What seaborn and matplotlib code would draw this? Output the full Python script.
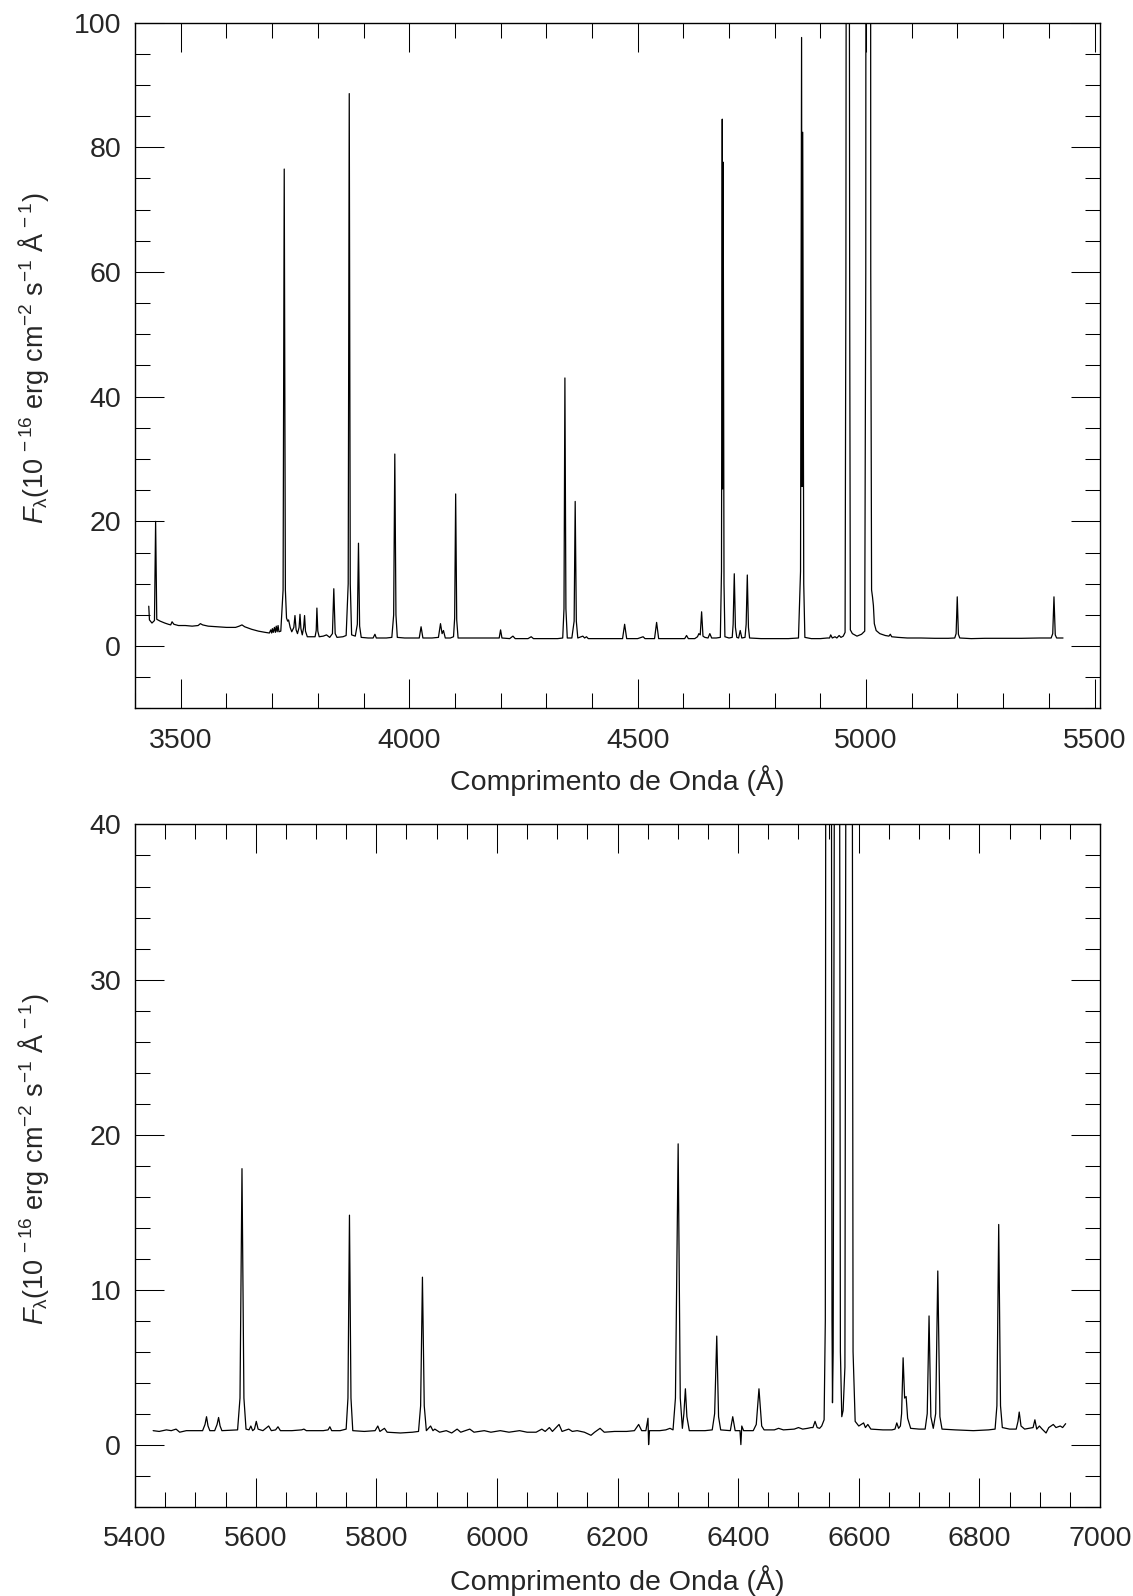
"""
Optical spectrum of the nebula, blue and red arms (two stacked panels)
"""

import matplotlib
matplotlib.use('Agg')
import matplotlib.pyplot as plt
from matplotlib.ticker import MultipleLocator
import seaborn as sns

# Blue arm: wavelength (A) and flux (1e-16 erg/cm2/s/A)
top_wave = [3430, 3431.5, 3437, 3442.5, 3445, 3447.5, 3455, 3465, 3473, 3478, 3481, 3485,
            3495, 3510, 3525, 3538, 3543, 3548, 3560, 3580, 3600, 3620, 3628, 3634, 3640,
            3655, 3670, 3685, 3694, 3697, 3699, 3700.5, 3702.5, 3705, 3707, 3709, 3711,
            3713, 3715, 3719, 3724, 3726.5, 3729, 3731.5, 3734, 3736, 3739.5, 3743, 3747.5,
            3750, 3752.5, 3755.5, 3759, 3761, 3763, 3766, 3769, 3771, 3773, 3777, 3785,
            3794, 3796.5, 3798, 3800, 3803, 3812, 3819, 3826, 3832, 3835, 3838, 3842, 3855,
            3862, 3866.5, 3868.8, 3871, 3874, 3882, 3886.5, 3889, 3891.5, 3895, 3910, 3921,
            3925, 3928, 3950, 3962, 3966, 3968.5, 3971, 3974, 3990, 4010, 4022, 4026, 4030,
            4050, 4064, 4068.5, 4072, 4075, 4079, 4090, 4097, 4099.5, 4101.7, 4104, 4107,
            4130, 4160, 4190, 4197, 4200, 4203, 4220, 4227, 4232, 4260, 4267, 4272, 4300,
            4325, 4336, 4338.8, 4340.8, 4343, 4346, 4356, 4361, 4363.3, 4365.8, 4369, 4380,
            4384, 4388, 4392, 4420, 4450, 4467, 4471.5, 4476, 4500, 4512, 4516, 4537, 4541.5,
            4546, 4570, 4590, 4603, 4607, 4611, 4625, 4631, 4634, 4637, 4640, 4643, 4647,
            4654, 4658, 4662, 4672, 4681, 4683.5, 4685.2, 4686.1, 4687.2, 4689, 4691, 4700,
            4707, 4709, 4711.5, 4714, 4717, 4721, 4724.5, 4728, 4735, 4737.5, 4740, 4742.5,
            4745, 4770, 4800, 4830, 4852, 4856.5, 4858.8, 4859.8, 4861.3, 4863.5, 4866, 4880,
            4900, 4915, 4920, 4922.5, 4926, 4932, 4936, 4941, 4945, 4950, 4954, 4955.8,
            4959.9, 4964, 4965.5, 4970, 4980, 4990, 4997, 4999.3, 5004.8, 5010.2, 5012, 5014,
            5016, 5018, 5022, 5030, 5042, 5050, 5053, 5056, 5070, 5090, 5120, 5150, 5180,
            5194, 5197, 5199.5, 5202, 5205, 5230, 5260, 5300, 5340, 5380, 5405, 5408.5,
            5411.2, 5414, 5417, 5431]
top_flux = [6.4, 4.2, 3.7, 4.1, 20.0, 4.3, 4.0, 3.7, 3.5, 3.4, 3.9, 3.5,
            3.3, 3.3, 3.2, 3.3, 3.6, 3.4, 3.2, 3.1, 3.0, 3.0, 3.2, 3.4, 3.1,
            2.7, 2.4, 2.2, 2.1, 2.6, 2.1, 2.8, 2.2, 3.0, 2.2, 3.2, 2.3,
            3.3, 2.3, 2.4, 9.0, 76.5, 9.0, 4.5, 4.0, 4.2, 3.0, 2.3, 3.0,
            4.9, 2.6, 2.0, 3.0, 5.1, 2.8, 1.8, 3.0, 4.9, 2.4, 1.5, 1.5,
            1.5, 2.5, 6.1, 2.4, 1.5, 1.6, 1.8, 1.4, 2.0, 9.2, 2.0, 1.4, 1.5,
            1.7, 10.0, 88.6, 10.0, 1.8, 1.6, 3.5, 16.5, 3.2, 1.4, 1.3, 1.3,
            1.9, 1.3, 1.3, 1.4, 5.0, 30.8, 5.0, 1.4, 1.3, 1.3, 1.3, 3.1, 1.3,
            1.3, 1.4, 3.6, 2.0, 2.5, 1.3, 1.3, 1.5, 4.5, 24.4, 4.2, 1.3,
            1.3, 1.3, 1.3, 1.3, 2.6, 1.3, 1.2, 1.6, 1.2, 1.2, 1.5, 1.2, 1.2,
            1.2, 1.3, 6.0, 43.0, 6.0, 1.3, 1.3, 4.0, 23.2, 4.0, 1.3, 1.6,
            1.3, 1.5, 1.2, 1.2, 1.2, 1.2, 3.5, 1.2, 1.2, 1.5, 1.2, 1.2, 3.8,
            1.2, 1.2, 1.2, 1.2, 1.7, 1.2, 1.2, 1.5, 2.0, 1.8, 5.5, 1.6, 1.4,
            1.3, 2.0, 1.3, 1.3, 1.4, 12.0, 84.5, 25.2, 77.6, 10.0, 1.5, 1.3,
            1.4, 3.5, 11.6, 3.0, 1.4, 1.3, 2.5, 1.3, 1.4, 3.5, 11.4, 3.0,
            1.3, 1.2, 1.2, 1.2, 1.3, 12.0, 97.6, 25.6, 82.4, 10.0, 1.4, 1.2,
            1.2, 1.3, 1.3, 1.8, 1.3, 1.5, 1.3, 1.7, 1.4, 1.6, 2.2, 60.0,
            400.0, 60.0, 2.6, 2.0, 1.6, 1.9, 2.4, 60.0, 1100.0, 60.0, 9.0, 7.9,
            6.5, 3.6, 2.5, 2.0, 1.7, 1.6, 1.9, 1.5, 1.4, 1.3, 1.3, 1.25, 1.25,
            1.3, 2.0, 7.9, 1.9, 1.3, 1.2, 1.25, 1.25, 1.25, 1.3, 1.3, 2.0,
            7.9, 1.8, 1.3, 1.3]

# Red arm
bottom_wave = [5430, 5440, 5452, 5460, 5468, 5474, 5485, 5500, 5512, 5516, 5518.5, 5521,
               5524, 5532, 5536, 5538.5, 5541, 5544, 5570, 5574, 5577.3, 5580.5, 5584, 5589,
               5592, 5595, 5598, 5601, 5604, 5612, 5621.5, 5626, 5633, 5637, 5641, 5660,
               5676, 5680, 5684, 5700, 5712, 5720, 5723, 5726, 5740, 5750, 5753, 5755.5,
               5758, 5761, 5780, 5798, 5802.5, 5806, 5813.5, 5818, 5840, 5860, 5870, 5873.5,
               5876.5, 5879.5, 5883, 5890, 5894, 5897, 5905, 5916, 5925, 5934, 5940, 5955,
               5962, 5979, 5990, 6005.5, 6020, 6037.5, 6050, 6065, 6074.5, 6080, 6087, 6092,
               6103, 6108, 6119, 6125, 6133, 6145, 6156, 6162, 6171, 6178, 6195, 6215, 6228,
               6235, 6240, 6247, 6250.5, 6251.5, 6253, 6270, 6280, 6287, 6292, 6296, 6300.5,
               6304, 6307.5, 6310, 6312.5, 6315, 6319, 6331, 6345, 6357, 6361, 6364.5, 6367.5,
               6371, 6387, 6391, 6395, 6403, 6404.5, 6406, 6409, 6425, 6430, 6434.5, 6439,
               6443, 6460, 6467, 6475, 6493, 6500, 6507, 6515, 6521, 6524, 6527.5, 6531, 6535,
               6538.5, 6542.5, 6544.5, 6545.5, 6550, 6554.3, 6555.6, 6556.4, 6557.5, 6560.4,
               6564, 6567.7, 6569.5, 6571.8, 6574, 6577, 6579.2, 6584, 6588.8, 6590.5, 6594,
               6600, 6608, 6611, 6615, 6620, 6640, 6655, 6660, 6663, 6666, 6669, 6671, 6673.5,
               6676, 6678.5, 6681, 6686, 6700, 6710, 6713.5, 6716.5, 6719.5, 6723.5, 6727.5,
               6731, 6734.5, 6738, 6760, 6790, 6815, 6826, 6829, 6832, 6835, 6838, 6850, 6861,
               6864, 6866, 6869, 6875, 6882, 6889, 6892, 6895, 6899.5, 6904, 6910.5, 6915,
               6922.5, 6927, 6934, 6938, 6943]
bottom_flux = [0.9, 0.85, 0.95, 0.9, 1.0, 0.8, 0.9, 0.9, 0.9, 1.3, 1.8, 1.2,
               0.9, 0.9, 1.3, 1.75, 1.2, 0.9, 0.95, 3.0, 17.8, 3.0, 1.0, 0.95,
               1.2, 0.9, 1.0, 1.5, 1.0, 0.9, 1.2, 0.9, 0.95, 1.15, 0.9, 0.9,
               0.95, 1.0, 0.9, 0.9, 0.9, 0.95, 1.15, 0.9, 0.9, 1.0, 3.0, 14.8,
               3.0, 0.9, 0.85, 0.9, 1.2, 0.85, 1.05, 0.8, 0.75, 0.8, 0.85, 2.5,
               10.8, 2.5, 0.9, 1.2, 0.9, 1.0, 0.8, 0.9, 0.75, 1.0, 0.8, 1.0,
               0.8, 0.9, 0.8, 0.9, 0.8, 0.9, 0.8, 0.8, 1.0, 0.85, 1.1, 0.85,
               1.3, 0.85, 1.0, 0.85, 0.9, 0.8, 0.6, 0.8, 1.05, 0.8, 0.85, 0.85, 0.9,
               1.3, 0.9, 0.9, 1.7, 0.0, 0.9, 0.9, 0.95, 1.05, 0.95, 3.0, 19.4,
               3.0, 1.05, 2.0, 3.6, 1.8, 0.9, 0.9, 0.9, 0.95, 2.0, 7.0, 1.8,
               0.95, 0.9, 1.8, 0.9, 0.9, 0.0, 1.2, 0.9, 0.9, 1.3, 3.6, 1.2,
               0.95, 0.95, 1.05, 0.95, 1.0, 1.1, 1.0, 1.05, 1.1, 1.1, 1.5, 1.1, 1.05,
               1.2, 1.6, 8.0, 60.0, 200.0, 60.0, 8.0, 2.7, 6.0, 60.0,
               700.0, 60.0, 6.0, 1.8, 2.2, 5.0, 60.0, 500.0, 60.0, 6.0, 1.5,
               1.2, 1.4, 1.1, 1.3, 1.0, 0.95, 0.95, 1.0, 1.4, 1.05, 1.2, 2.0, 5.6,
               3.0, 3.1, 1.7, 1.05, 1.0, 1.0, 2.0, 8.3, 1.8, 1.05, 2.0,
               11.2, 1.8, 1.0, 0.95, 0.9, 0.95, 1.0, 2.5, 14.2, 2.5, 1.1, 1.0, 1.0,
               1.5, 2.1, 1.2, 1.0, 1.05, 1.1, 1.6, 1.0, 1.2, 1.0, 0.75, 1.1,
               1.3, 1.1, 1.2, 1.1, 1.35]

panels = [
    # wave, flux, xlim, ylim, x major/minor, y major/minor, axes rect, xlabel y
    (top_wave, top_flux, (3400, 5512), (-10, 100), (500, 100), (20, 5),
     [0.1192, 0.5561, 0.8517, 0.4298], -0.1188),
    (bottom_wave, bottom_flux, (5400, 7000), (-4, 40), (200, 50), (10, 2),
     [0.1192, 0.0560, 0.8517, 0.4274], -0.1223),
]

sns.set_theme(style='ticks')
plt.rcParams['font.family'] = ['Liberation Sans', 'DejaVu Sans']
plt.rcParams['mathtext.fontset'] = 'custom'
plt.rcParams['mathtext.rm'] = 'Liberation Sans'
plt.rcParams['mathtext.it'] = 'Liberation Sans:italic'
plt.rcParams['mathtext.bf'] = 'Liberation Sans:bold'

fs = 20.5
ylabel = r'$F_{\mathrm{\lambda}}$(10$^{\,-16}$ erg cm$^{-2}$ s$^{-1}$ Å$^{\,-1}$)'

fig = plt.figure(figsize=(11.33, 15.96), dpi=100)

for wave, flux, xlim, ylim, xt, yt, rect, xlab_y in panels:
    ax = fig.add_axes(rect)
    sns.lineplot(x=wave, y=flux, ax=ax, estimator=None, sort=False,
                 color='black', linewidth=0.9)
    ax.set_xlim(*xlim)
    ax.set_ylim(*ylim)
    ax.xaxis.set_major_locator(MultipleLocator(xt[0]))
    ax.xaxis.set_minor_locator(MultipleLocator(xt[1]))
    ax.yaxis.set_major_locator(MultipleLocator(yt[0]))
    ax.yaxis.set_minor_locator(MultipleLocator(yt[1]))
    ax.tick_params(which='both', direction='in', top=True, right=True,
                   color='black', width=0.75)
    ax.tick_params(which='major', length=21, labelsize=fs)
    ax.tick_params(which='minor', length=10.8)
    ax.tick_params(axis='x', which='major', pad=13.8)
    ax.tick_params(axis='y', which='major', pad=10)
    for s in ax.spines.values():
        s.set_visible(True)
        s.set_linewidth(1.0)
        s.set_color('black')
    ax.set_xlabel('Comprimento de Onda (Å)', fontsize=fs, va='baseline')
    ax.xaxis.set_label_coords(0.5, xlab_y)
    ax.set_ylabel(ylabel, fontsize=19.5, va='baseline')
    ax.yaxis.set_label_coords(-0.0953, 0.51)

fig.savefig('out.png', dpi=100)
